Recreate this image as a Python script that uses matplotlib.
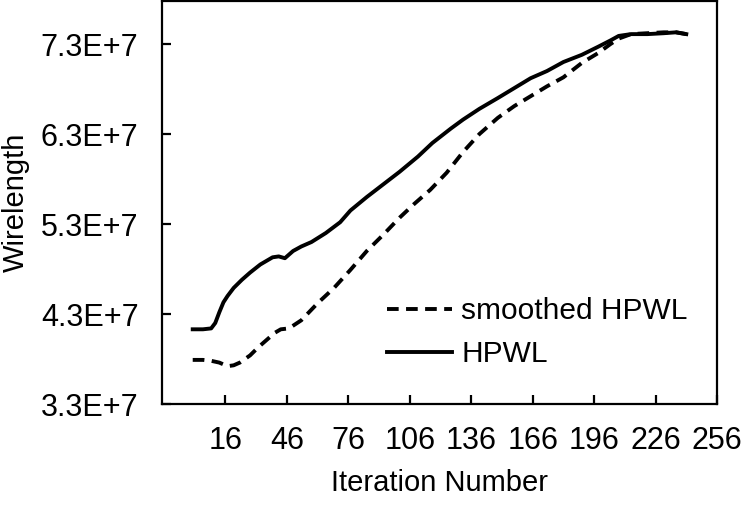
import matplotlib
matplotlib.use("Agg")
import matplotlib.pyplot as plt
import numpy as np

plt.rcParams['font.family'] = ['Liberation Sans', 'DejaVu Sans']

# HPWL (solid)
hpwl_iter = [0, 5, 9, 11, 13, 15, 17, 20, 24, 28, 33, 39, 42, 45, 49, 53, 58, 65, 72, 77,
             85, 93, 101, 110, 117, 126, 132, 140, 149, 157, 165, 173, 181, 190, 198, 204,
             208, 214, 222, 230, 236, 241]
hpwl_val = [4.13, 4.13, 4.14, 4.20, 4.32, 4.43, 4.50, 4.59, 4.68, 4.76, 4.85, 4.93, 4.94, 4.92,
            5.00, 5.05, 5.10, 5.20, 5.32, 5.45, 5.60, 5.74, 5.88, 6.05, 6.20, 6.36, 6.46, 6.58,
            6.70, 6.81, 6.92, 7.00, 7.10, 7.18, 7.27, 7.34, 7.39, 7.41, 7.41, 7.42, 7.43, 7.41]

# smoothed HPWL (dashed)
smooth_iter = [0, 5, 9, 13, 17, 20, 23, 28, 32, 36, 40, 43, 47, 53, 61, 69, 77, 85, 93, 101,
               108, 116, 124, 132, 140, 149, 157, 165, 173, 181, 190, 198, 204, 208, 214, 222,
               230, 236, 241]
smooth_val = [3.79, 3.79, 3.78, 3.76, 3.72, 3.73, 3.76, 3.84, 3.93, 4.01, 4.09, 4.13, 4.14,
              4.23, 4.42, 4.59, 4.79, 5.00, 5.18, 5.37, 5.52, 5.68, 5.87, 6.10, 6.30, 6.48,
              6.61, 6.72, 6.83, 6.93, 7.09, 7.20, 7.30, 7.36, 7.41, 7.42, 7.43, 7.43, 7.41]

x_ticks = [16, 46, 76, 106, 136, 166, 196, 226, 256]
y_ticks = [3.3e7, 4.3e7, 5.3e7, 6.3e7, 7.3e7]
y_labels = ["3.3E+7", "4.3E+7", "5.3E+7", "6.3E+7", "7.3E+7"]

fig = plt.figure(figsize=(7.48, 5.09), dpi=100)
ax = fig.add_axes([162/748, 1 - 404/509, (717-162)/748, 403/509])

ax.plot(smooth_iter, np.array(smooth_val) * 1e7, color='black', lw=2.8,
        linestyle=(0, (3.0, 1.9)), label='smoothed HPWL')
ax.plot(hpwl_iter, np.array(hpwl_val) * 1e7, color='black', lw=2.8,
        label='HPWL')

ax.set_xlim(-15, 256)
ax.set_ylim(3.3e7, 7.778e7)
ax.set_xticks(x_ticks)
ax.set_yticks(y_ticks)
ax.set_yticklabels(y_labels)

for s in ax.spines.values():
    s.set_linewidth(1.6)

ax.tick_params(axis='both', direction='in', length=6.5, width=1.6,
               labelsize=22, pad=16)
ax.tick_params(axis='y', pad=17)

ax.set_xlabel('Iteration Number', fontsize=21, labelpad=9)
ax.set_ylabel('Wirelength', fontsize=21, labelpad=8)

leg = ax.legend(loc='upper left', bbox_to_anchor=(0.405, 0.265), frameon=False,
                fontsize=21.5, handlelength=2.2, handletextpad=0.3,
                labelspacing=0.5, borderaxespad=0, borderpad=0)

fig.savefig('out.png', dpi=100)
